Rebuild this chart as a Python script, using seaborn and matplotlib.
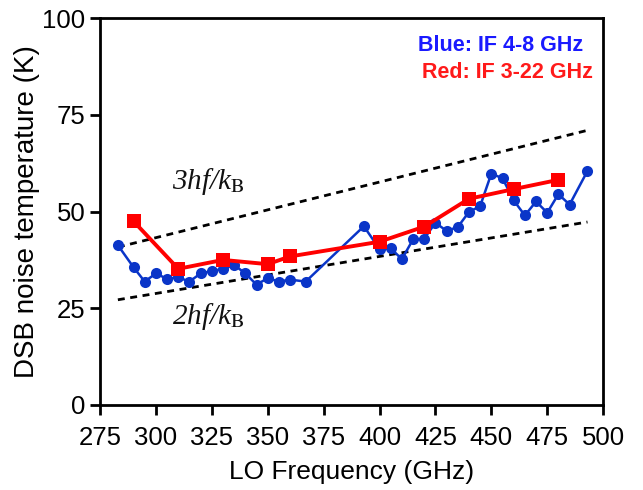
import numpy as np
import pandas as pd
import matplotlib
matplotlib.use("Agg")
import matplotlib.pyplot as plt
import seaborn as sns

# Blue: IF 4-8 GHz
blue_freq = [283, 290, 295, 300, 305, 310, 315, 320, 325, 330, 335, 340, 345, 350,
             355, 360, 367, 393, 400, 405, 410, 415, 420, 425, 430, 435, 440, 445,
             450, 455, 460, 465, 470, 475, 480, 485, 493]
blue_temp = [41.3, 35.6, 31.9, 34.0, 32.6, 33.0, 31.9, 34.0, 34.6, 35.2, 36.2, 34.0,
             31.1, 32.8, 31.9, 32.4, 31.9, 46.2, 40.3, 40.5, 37.7, 42.8, 43.0, 47.1,
             45.0, 46.0, 49.9, 51.4, 59.8, 58.6, 52.9, 49.0, 52.6, 49.7, 54.5, 51.8, 60.5]

# Red: IF 3-22 GHz
red_freq = [290, 310, 330, 350, 360, 400, 420, 440, 460, 480]
red_temp = [47.5, 35.2, 37.5, 36.4, 38.4, 42.2, 46.1, 53.3, 55.8, 58.2]

# quantum limit lines (end points)
limit_freq = [283, 493]
three_hf = [40.8, 71.0]
two_hf = [27.2, 47.3]

blue_df = pd.DataFrame({"freq": blue_freq, "temp": blue_temp})
red_df = pd.DataFrame({"freq": red_freq, "temp": red_temp})

sns.set_theme(style="ticks")
plt.rcParams["font.family"] = ["Liberation Sans", "DejaVu Sans"]
plt.rcParams["mathtext.fontset"] = "stix"
plt.rcParams["text.color"] = "black"
plt.rcParams["axes.labelcolor"] = "black"

fig = plt.figure(figsize=(6.43, 4.9), dpi=100)
ax = fig.add_axes([0.1555, 0.1735, 0.7825, 0.7895])

ax.plot(limit_freq, three_hf, color="black", linestyle=(0, (2.5, 2)), linewidth=2)
ax.plot(limit_freq, two_hf, color="black", linestyle=(0, (2.5, 2)), linewidth=2)

sns.lineplot(data=blue_df, x="freq", y="temp", ax=ax, color="#0a35c8",
             marker="o", markersize=8, markeredgewidth=0, linewidth=1.8)
sns.lineplot(data=red_df, x="freq", y="temp", ax=ax, color="#ff0000",
             marker="s", markersize=10, markeredgewidth=0, linewidth=2.8)

# limit labels, serif italic with upright subscript
ax.text(307, 55.8, r"3hf/k$_{\mathrm{B}}$", fontsize=21, color="#111111",
        family="Liberation Serif", fontstyle="italic")
ax.text(307, 21, r"2hf/k$_{\mathrm{B}}$", fontsize=21, color="#111111",
        family="Liberation Serif", fontstyle="italic")

ax.text(491, 93, "Blue: IF 4-8 GHz", color="#1a1aff", fontsize=15.5,
        fontweight="bold", ha="right", va="center")
ax.text(495.5, 86, "Red: IF 3-22 GHz", color="#ff1a1a", fontsize=15.5,
        fontweight="bold", ha="right", va="center")

ax.set_xlim(275, 500)
ax.set_ylim(0, 100)
ax.set_xticks(np.arange(275, 501, 25))
ax.set_yticks([0, 25, 50, 75, 100])
ax.set_xlabel("LO Frequency (GHz)", fontsize=19, labelpad=7)
ax.set_ylabel("DSB noise temperature (K)", fontsize=20, labelpad=2)
ax.tick_params(axis="both", labelsize=18.5, direction="out", length=7, width=2,
               color="black", labelcolor="black")
ax.tick_params(axis="x", pad=8)
for spine in ax.spines.values():
    spine.set_visible(True)
    spine.set_linewidth(2)
    spine.set_color("black")

fig.savefig("out.png", dpi=100)
